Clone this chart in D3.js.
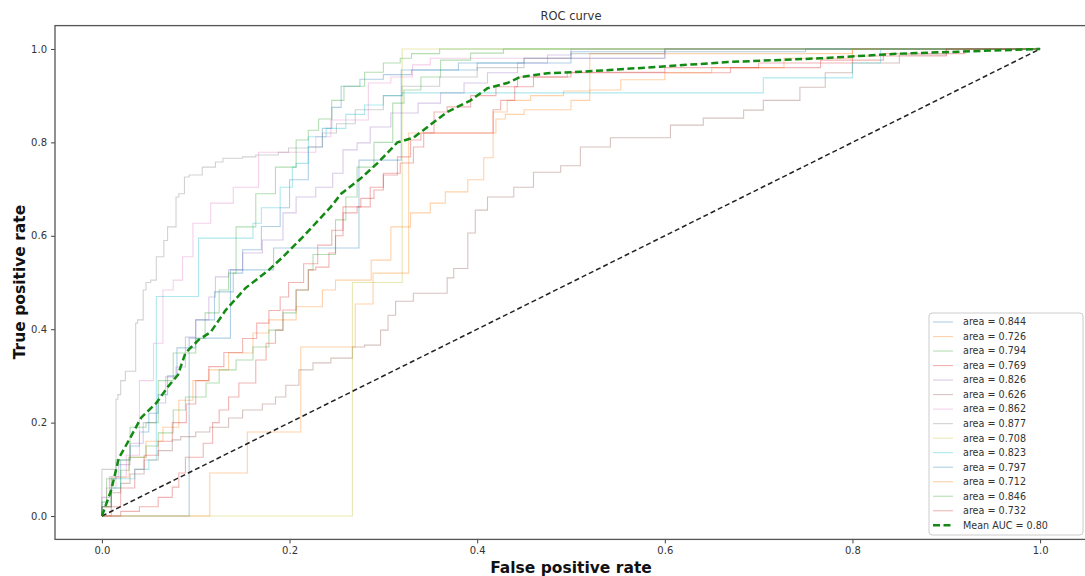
<!DOCTYPE html>
<html lang="en">
<head>
<meta charset="UTF-8">
<title>ROC curve</title>
<script src="https://d3js.org/d3.v7.min.js"></script>
<style>
    body { margin: 0; background: #fff; }
    svg text { font-family: "DejaVu Sans", sans-serif; }
    .axis path { display: none; }
    .axis line { stroke: #444; }
    .axis text { fill: #333; font-size: 10px; }
</style>
</head>
<body>
<svg width="1085" height="576"></svg>
<script>

    // [fpr, tpr] corner points, one array per fold
    var roc01 = [[0,0],[0.01,0.02],[0.02,0.08],[0.03,0.12],[0.04,0.15],[0.05,0.18],[0.06,0.22],[0.07,0.26],[0.08,0.3],[0.1,0.36],[0.12,0.42],[0.14,0.48],[0.15,0.52],[0.17,0.57],[0.19,0.62],[0.2,0.66],[0.22,0.72],[0.235,0.79],[0.245,0.83],[0.255,0.875],[0.275,0.92],[0.3,0.935],[0.33,0.945],[0.38,0.955],[0.45,0.97],[0.6,0.98],[0.75,1],[1,1]];
    var roc02 = [[0,0],[0.01,0.02],[0.029,0.083],[0.047,0.126],[0.065,0.16],[0.082,0.19],[0.097,0.248],[0.114,0.29],[0.135,0.313],[0.161,0.349],[0.178,0.392],[0.207,0.42],[0.235,0.448],[0.249,0.484],[0.287,0.505],[0.308,0.548],[0.329,0.619],[0.35,0.649],[0.366,0.67],[0.39,0.694],[0.407,0.72],[0.417,0.767],[0.432,0.865],[0.457,0.89],[0.492,0.9],[0.52,0.91],[0.8,0.99],[1,1]];
    var roc03 = [[0,0],[0.01,0.02],[0.02,0.06],[0.029,0.098],[0.047,0.126],[0.06,0.15],[0.076,0.178],[0.089,0.227],[0.111,0.255],[0.125,0.285],[0.143,0.313],[0.161,0.334],[0.178,0.362],[0.193,0.398],[0.207,0.435],[0.22,0.484],[0.225,0.527],[0.249,0.56],[0.26,0.634],[0.272,0.683],[0.29,0.747],[0.31,0.8],[0.322,0.884],[0.34,0.912],[0.361,0.94],[0.393,0.976],[0.428,0.991],[0.55,1],[1,1]];
    var roc04 = [[0,0],[0.01,0],[0.02,0.02],[0.035,0.06],[0.045,0.1],[0.06,0.13],[0.075,0.16],[0.09,0.2],[0.1,0.24],[0.114,0.29],[0.13,0.32],[0.15,0.35],[0.165,0.38],[0.178,0.413],[0.19,0.44],[0.199,0.469],[0.215,0.5],[0.23,0.54],[0.245,0.58],[0.257,0.612],[0.276,0.662],[0.29,0.68],[0.3,0.698],[0.315,0.73],[0.329,0.769],[0.34,0.805],[0.354,0.82],[0.368,0.865],[0.393,0.876],[0.42,0.9],[0.443,0.919],[0.5,0.94],[0.67,0.949],[0.766,0.96],[0.833,0.976],[0.92,0.99],[1,1]];
    var roc05 = [[0,0],[0.008,0.04],[0.018,0.084],[0.03,0.11],[0.044,0.156],[0.058,0.2],[0.068,0.242],[0.079,0.298],[0.089,0.319],[0.1,0.383],[0.114,0.42],[0.121,0.469],[0.135,0.512],[0.15,0.527],[0.171,0.563],[0.193,0.591],[0.207,0.649],[0.228,0.683],[0.246,0.704],[0.257,0.734],[0.272,0.784],[0.286,0.799],[0.308,0.833],[0.337,0.863],[0.361,0.884],[0.386,0.906],[0.411,0.927],[0.443,0.949],[0.475,0.97],[0.5,0.987],[0.6,1],[1,1]];
    var roc06 = [[0,0],[0.01,0.02],[0.02,0.05],[0.03,0.07],[0.045,0.09],[0.06,0.12],[0.075,0.14],[0.084,0.163],[0.1,0.17],[0.115,0.18],[0.135,0.19],[0.15,0.21],[0.171,0.227],[0.185,0.24],[0.196,0.255],[0.21,0.28],[0.225,0.313],[0.244,0.328],[0.267,0.338],[0.28,0.362],[0.297,0.366],[0.305,0.398],[0.313,0.43],[0.332,0.46],[0.368,0.477],[0.375,0.51],[0.39,0.53],[0.398,0.606],[0.411,0.655],[0.439,0.683],[0.46,0.704],[0.489,0.736],[0.51,0.75],[0.542,0.79],[0.606,0.81],[0.641,0.837],[0.684,0.852],[0.705,0.869],[0.744,0.89],[0.771,0.918],[0.8,0.949],[0.85,0.97],[0.9,0.987],[1,1]];
    var roc07 = [[0,0],[0.005,0.02],[0.015,0.06],[0.026,0.084],[0.04,0.13],[0.055,0.29],[0.065,0.37],[0.076,0.484],[0.086,0.505],[0.097,0.555],[0.116,0.627],[0.14,0.67],[0.167,0.704],[0.201,0.779],[0.228,0.779],[0.244,0.812],[0.284,0.848],[0.308,0.927],[0.331,0.94],[0.35,0.966],[0.6,0.98],[0.75,1],[1,1]];
    var roc08 = [[0,0],[0.015,0.1],[0.017,0.25],[0.02,0.26],[0.025,0.29],[0.036,0.31],[0.038,0.413],[0.044,0.42],[0.047,0.484],[0.052,0.5],[0.058,0.505],[0.066,0.555],[0.07,0.59],[0.079,0.619],[0.082,0.683],[0.088,0.69],[0.093,0.726],[0.107,0.73],[0.121,0.747],[0.129,0.758],[0.15,0.766],[0.164,0.769],[0.188,0.773],[0.199,0.779],[0.22,0.788],[0.235,0.79],[0.25,0.82],[0.27,0.84],[0.3,0.87],[0.32,0.9],[0.36,0.92],[0.4,0.94],[0.45,0.96],[0.5,0.98],[0.6,0.99],[0.7,1],[1,1]];
    var roc09 = [[0,0],[0.267,0],[0.32,0.5],[1,1]];
    var roc10 = [[0,0],[0.01,0.03],[0.02,0.06],[0.035,0.08],[0.05,0.1],[0.058,0.12],[0.103,0.47],[0.161,0.595],[0.17,0.627],[0.19,0.66],[0.203,0.704],[0.207,0.747],[0.22,0.755],[0.239,0.812],[0.26,0.83],[0.28,0.86],[0.3,0.88],[0.32,0.9],[0.705,0.906],[0.8,0.938],[0.83,0.97],[1,1]];
    var roc11 = [[0,0],[0.093,0],[0.137,0.381],[0.183,0.527],[0.274,0.574],[0.319,0.762],[0.4,0.955],[0.5,0.97],[0.75,0.994],[1,1]];
    var roc12 = [[0,0],[0.115,0],[0.155,0.092],[0.212,0.18],[0.27,0.362],[0.289,0.454],[0.327,0.52],[0.42,0.82],[0.43,0.85],[0.45,0.86],[0.5,0.87],[0.52,0.89],[0.553,0.912],[0.6,0.934],[0.65,0.949],[0.727,0.96],[0.8,0.98],[1,1]];
    var roc13 = [[0,0],[0.005,0.03],[0.015,0.08],[0.03,0.12],[0.047,0.19],[0.06,0.2],[0.076,0.29],[0.1,0.349],[0.11,0.38],[0.125,0.435],[0.135,0.484],[0.143,0.52],[0.164,0.619],[0.185,0.69],[0.207,0.747],[0.22,0.805],[0.231,0.826],[0.245,0.85],[0.258,0.89],[0.28,0.92],[0.3,0.95],[0.318,0.97],[0.33,0.98],[0.36,0.99],[0.44,1],[1,1]];
    var roc14 = [[0,0],[0.02,0],[0.04,0.01],[0.06,0.02],[0.075,0.04],[0.082,0.062],[0.089,0.092],[0.108,0.126],[0.118,0.156],[0.125,0.2],[0.135,0.227],[0.146,0.255],[0.164,0.285],[0.175,0.334],[0.185,0.37],[0.193,0.398],[0.207,0.441],[0.22,0.484],[0.228,0.527],[0.242,0.533],[0.249,0.563],[0.257,0.6],[0.272,0.649],[0.286,0.662],[0.3,0.704],[0.318,0.734],[0.332,0.756],[0.343,0.79],[0.354,0.82],[0.417,0.82],[0.425,0.87],[0.44,0.89],[0.46,0.919],[0.496,0.94],[0.6,0.95],[0.7,0.96],[0.8,0.97],[0.9,0.985],[1,1]];

    var rocCurves = [roc01, roc02, roc03, roc04, roc05, roc06, roc07, roc08, roc09, roc10, roc11, roc12, roc13, roc14];
    var aucValues = [0.844, 0.726, 0.794, 0.769, 0.826, 0.626, 0.862, 0.877, 0.708, 0.823, 0.797, 0.712, 0.846, 0.732];
    var meanAuc = 0.80;

    // mean tpr over an fpr grid
    var meanCurve = [[0,0],[0.01,0.056],[0.018,0.124],[0.029,0.163],[0.042,0.211],[0.058,0.242],[0.07,0.276],[0.081,0.302],[0.089,0.349],[0.103,0.377],[0.116,0.394],[0.132,0.441],[0.153,0.488],[0.164,0.505],[0.178,0.527],[0.193,0.555],[0.214,0.597],[0.244,0.662],[0.255,0.69],[0.276,0.723],[0.294,0.756],[0.315,0.8],[0.332,0.81],[0.368,0.865],[0.393,0.89],[0.411,0.916],[0.432,0.927],[0.446,0.94],[0.475,0.948],[0.51,0.951],[0.595,0.962],[0.667,0.972],[0.766,0.98],[0.851,0.99],[1,1]];
    var chance = [[0,0],[1,1]];

    var tickValues = [0, 0.2, 0.4, 0.6, 0.8, 1.0];
    var colors = ['#1f77b4', '#ff7f0e', '#2ca02c', '#d62728', '#9467bd', '#8c564b', '#e377c2', '#7f7f7f', '#bcbd22', '#17becf'];

    var svg = d3.select('svg');

    var x = d3.scaleLinear()
            .domain([-0.05, 1.05])
            .range([55, 1087]);

    var y = d3.scaleLinear()
            .domain([-0.05, 1.05])
            .range([539.4, 25.6]);

    var stepLine = d3.line()
            .x(function(d) { return x(d[0]); })
            .y(function(d) { return y(d[1]); })
            .curve(d3.curveStepBefore);

    var straight = d3.line()
            .x(function(d) { return x(d[0]); })
            .y(function(d) { return y(d[1]); });

    // folds
    svg.append('g')
            .selectAll('path')
            .data(rocCurves)
            .enter().append('path')
            .attr('d', stepLine)
            .attr('fill', 'none')
            .attr('stroke', function(d, i) { return colors[i % 10]; })
            .attr('stroke-opacity', 0.35)
            .attr('stroke-width', 1.1);

    svg.append('path')
            .attr('d', straight(chance))
            .attr('fill', 'none')
            .attr('stroke', '#222')
            .attr('stroke-width', 1.5)
            .attr('stroke-dasharray', '5,3');

    svg.append('path')
            .attr('d', straight(meanCurve))
            .attr('fill', 'none')
            .attr('stroke', '#138a13')
            .attr('stroke-width', 2.5)
            .attr('stroke-dasharray', '7,3.5');

    // axes
    var xAxis = d3.axisBottom(x)
            .tickValues(tickValues)
            .tickFormat(d3.format('.1f'))
            .tickSize(4)
            .tickPadding(4);

    var yAxis = d3.axisLeft(y)
            .tickValues(tickValues)
            .tickFormat(d3.format('.1f'))
            .tickSize(4)
            .tickPadding(4);

    svg.append('g')
            .attr('class', 'axis')
            .attr('transform', 'translate(0,' + y(-0.05) + ')')
            .call(xAxis);

    svg.append('g')
            .attr('class', 'axis')
            .attr('transform', 'translate(' + x(-0.05) + ',0)')
            .call(yAxis);

    svg.append('rect')
            .attr('x', x(-0.05))
            .attr('y', y(1.05))
            .attr('width', x(1.05) - x(-0.05))
            .attr('height', y(-0.05) - y(1.05))
            .attr('fill', 'none')
            .attr('stroke', '#555')
            .attr('stroke-width', 1.3);

    svg.append('text')
            .attr('x', 571)
            .attr('y', 20)
            .attr('text-anchor', 'middle')
            .attr('font-size', '11.5px')
            .attr('fill', '#333')
            .text('ROC curve');

    svg.append('text')
            .attr('x', 571)
            .attr('y', 573)
            .attr('text-anchor', 'middle')
            .attr('font-size', '15.5px')
            .attr('font-weight', 'bold')
            .attr('fill', '#111')
            .text('False positive rate');

    svg.append('text')
            .attr('transform', 'translate(25,282) rotate(-90)')
            .attr('text-anchor', 'middle')
            .attr('font-size', '15.5px')
            .attr('font-weight', 'bold')
            .attr('fill', '#111')
            .text('True positive rate');

    // legend
    var legend = svg.append('g').attr('transform', 'translate(929,313)');
    legend.append('rect')
            .attr('width', 154)
            .attr('height', 222)
            .attr('rx', 3)
            .attr('fill', '#fff')
            .attr('fill-opacity', 0.8)
            .attr('stroke', '#ccc');

    var labels = aucValues.map(function(a) { return 'area = ' + a.toFixed(3); });
    labels.push('Mean AUC = ' + meanAuc.toFixed(2));

    var rows = legend.selectAll('g.row')
            .data(labels)
            .enter().append('g')
            .attr('class', 'row')
            .attr('transform', function(d, i) { return 'translate(0,' + (9 + i * 14.52) + ')'; });

    rows.append('line')
            .attr('x1', 4).attr('x2', 24)
            .attr('stroke', function(d, i) { return i < 14 ? colors[i % 10] : '#138a13'; })
            .attr('stroke-opacity', function(d, i) { return i < 14 ? 0.35 : 1; })
            .attr('stroke-width', function(d, i) { return i < 14 ? 1.1 : 2.5; })
            .attr('stroke-dasharray', function(d, i) { return i < 14 ? null : '7,3.5'; });

    rows.append('text')
            .attr('x', 34)
            .attr('dy', '0.35em')
            .attr('font-size', '9.6px')
            .attr('fill', '#333')
            .text(function(d) { return d; });

</script>
</body>
</html>
